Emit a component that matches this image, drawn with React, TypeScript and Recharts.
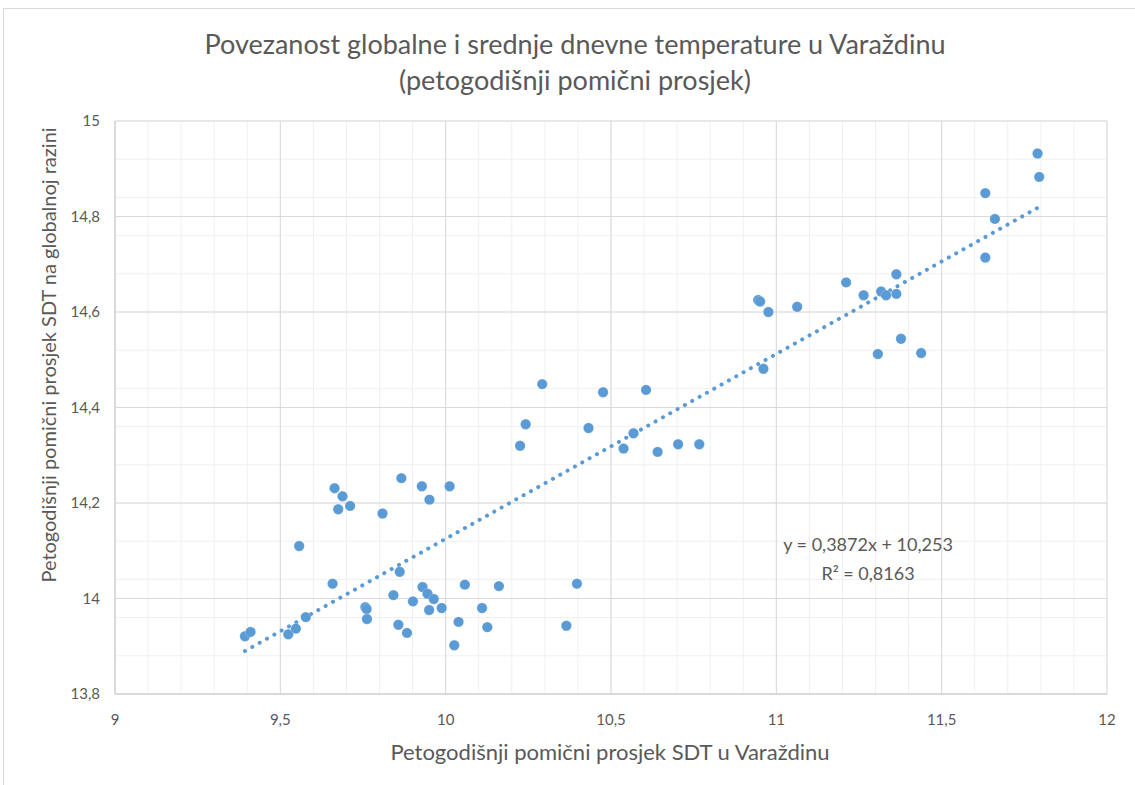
import React from 'react';
import {
  ScatterChart,
  Scatter,
  XAxis,
  YAxis,
  CartesianGrid,
  ReferenceLine,
  Label,
} from 'recharts';

// petogodišnji pomični prosjek SDT u Varaždinu
const varazdinTemp = [
  9.393, 9.41, 9.524, 9.547, 9.577, 9.557, 9.658,
  9.664, 9.688, 9.711, 9.675, 9.809, 9.866, 9.928, 9.951, 10.012,
  9.757, 9.761, 9.762, 9.861, 9.842, 9.901, 9.93, 9.945, 9.964, 9.95, 9.988,
  10.058, 10.039, 9.857, 9.883, 10.026, 10.11, 10.126, 10.161, 10.397, 10.365,
  10.225, 10.242, 10.292, 10.432, 10.476, 10.538, 10.568, 10.606, 10.641, 10.703, 10.767,
  10.945, 10.951, 10.976, 11.063, 10.961, 11.211, 11.264, 11.317, 11.332, 11.363,
  11.363, 11.377, 11.307, 11.438, 11.632, 11.661, 11.632, 11.79, 11.795,
];

// petogodišnji pomični prosjek SDT na globalnoj razini
const globalTemp = [
  13.921, 13.93, 13.925, 13.937, 13.961, 14.11, 14.031,
  14.231, 14.214, 14.194, 14.187, 14.178, 14.252, 14.235, 14.207, 14.235,
  13.982, 13.978, 13.957, 14.056, 14.007, 13.994, 14.024, 14.01, 13.999, 13.976, 13.98,
  14.029, 13.951, 13.945, 13.928, 13.902, 13.98, 13.94, 14.026, 14.031, 13.943,
  14.32, 14.365, 14.449, 14.357, 14.432, 14.314, 14.346, 14.437, 14.307, 14.323, 14.323,
  14.625, 14.622, 14.6, 14.611, 14.481, 14.662, 14.635, 14.643, 14.635, 14.638,
  14.679, 14.544, 14.512, 14.514, 14.849, 14.795, 14.714, 14.932, 14.883,
];

const xTicks = [9, 9.5, 10, 10.5, 11, 11.5, 12];
const yTicks = [13.8, 14, 14.2, 14.4, 14.6, 14.8, 15];

// linearni trend (Excel)
const slope = 0.3872;
const intercept = 10.253;
const rSquared = 0.8163;

const BLUE = '#5B9BD5';
const GRAY = '#595959';
const FONT = 'Lato, "Open Sans", sans-serif';

const data = varazdinTemp.map((x, i) => ({ x, y: globalTemp[i] }));

const xMin = Math.min(...varazdinTemp);
const xMax = Math.max(...varazdinTemp);

// minor gridlines: 0.1 horizontally, 0.04 vertically
const minorX = Array.from({ length: 31 }, (_, i) => +(9 + i * 0.1).toFixed(2));
const minorY = Array.from({ length: 31 }, (_, i) => +(13.8 + i * 0.04).toFixed(2));

const fmt = (v: number) => String(v).replace('.', ',');

export default function App() {
  return (
    <div
      style={{
        position: 'absolute',
        left: 0,
        top: 0,
        width: 1135,
        height: 785,
        overflow: 'hidden',
        background: '#fff',
        fontFamily: FONT,
      }}
    >
      <div
        style={{
          position: 'absolute',
          left: 3,
          top: 8,
          width: 1140,
          height: 800,
          borderLeft: '1px solid #d9d9d9',
          borderTop: '1px solid #d9d9d9',
        }}
      />
      <div
        style={{
          position: 'absolute',
          left: 0,
          top: 26,
          width: 1150,
          textAlign: 'center',
          color: GRAY,
          fontSize: 27,
          lineHeight: '36px',
        }}
      >
        Povezanost globalne i srednje dnevne temperature u Varaždinu
        <br />
        (petogodišnji pomični prosjek)
      </div>
      <ScatterChart
        width={1135}
        height={785}
        margin={{ top: 121, right: 28, bottom: 0, left: 0 }}
        style={{ position: 'absolute', left: 0, top: 0 }}
      >
        <CartesianGrid
          stroke="#f0f0f0"
          strokeWidth={1}
          verticalValues={minorX}
          horizontalValues={minorY}
        />
        <CartesianGrid stroke="#d9d9d9" strokeWidth={1} />
        <XAxis
          type="number"
          dataKey="x"
          domain={[9, 12]}
          ticks={xTicks}
          tickFormatter={fmt}
          tickLine={false}
          tickSize={0}
          tickMargin={20}
          axisLine={{ stroke: '#cccccc' }}
          tick={{ fill: GRAY, fontSize: 15, fontFamily: FONT }}
          height={91}
          allowDataOverflow
        >
          <Label
            content={() => (
              <text
                x={610}
                y={760}
                textAnchor="middle"
                fill={GRAY}
                fontSize={22}
                fontFamily={FONT}
              >
                Petogodišnji pomični prosjek SDT u Varaždinu
              </text>
            )}
          />
        </XAxis>
        <YAxis
          type="number"
          dataKey="y"
          domain={[13.8, 15]}
          ticks={yTicks}
          tickFormatter={fmt}
          tickLine={false}
          tickSize={0}
          tickMargin={15}
          axisLine={{ stroke: '#cccccc' }}
          tick={{ fill: GRAY, fontSize: 15, fontFamily: FONT }}
          width={115}
          allowDataOverflow
        >
          <Label
            content={() => (
              <text
                x={48}
                y={355}
                transform="rotate(-90 48 355)"
                textAnchor="middle"
                dominantBaseline="central"
                fill={GRAY}
                fontSize={20}
                fontFamily={FONT}
              >
                Petogodišnji pomični prosjek SDT na globalnoj razini
              </text>
            )}
          />
        </YAxis>
        <ReferenceLine
          segment={[
            { x: xMin, y: slope * xMin + intercept },
            { x: xMax, y: slope * xMax + intercept },
          ]}
          stroke={BLUE}
          strokeWidth={4}
          strokeDasharray="0.1 8.3"
          strokeLinecap="round"
          ifOverflow="visible"
        />
        <Scatter
          data={data}
          isAnimationActive={false}
          fill={BLUE}
          shape={(p: any) => (
            <circle cx={p.cx} cy={p.cy} r={5.2} fill={BLUE} stroke="#ffffff" strokeOpacity={0.35} strokeWidth={0.6} />
          )}
        />
        <text x={868} y={551} textAnchor="middle" fill={GRAY} fontSize={18} fontFamily={FONT}>
          {`y = ${fmt(slope)}x + ${fmt(intercept)}`}
        </text>
        <text x={868} y={580} textAnchor="middle" fill={GRAY} fontSize={18} fontFamily={FONT}>
          {`R² = ${fmt(rSquared)}`}
        </text>
      </ScatterChart>
    </div>
  );
}
